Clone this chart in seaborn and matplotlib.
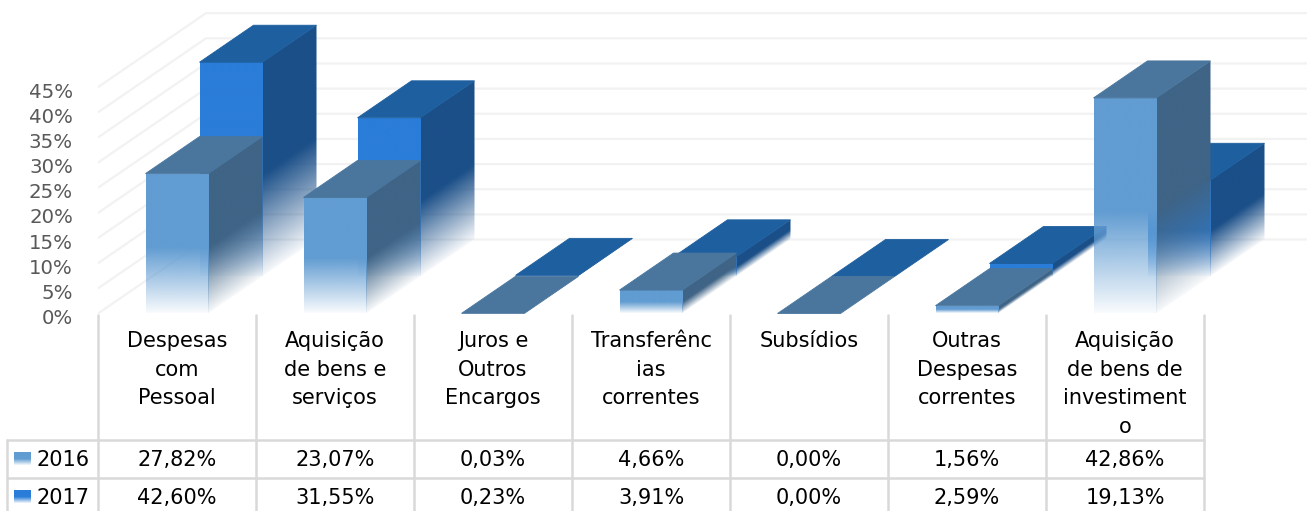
"""3D-style clustered bars with a data table underneath, Portuguese budget shares."""
import matplotlib
matplotlib.use("Agg")
import matplotlib.pyplot as plt
import matplotlib.transforms as mtrans
from matplotlib.colors import to_rgb
from matplotlib.lines import Line2D
from matplotlib.patches import Polygon
import numpy as np
import seaborn as sns

categories = ["Despesas\ncom\nPessoal", "Aquisição\nde bens e\nserviços", "Juros e\nOutros\nEncargos",
              "Transferênc\nias\ncorrentes", "Subsídios", "Outras\nDespesas\ncorrentes",
              "Aquisição\nde bens de\ninvestiment\no"]
values_2016 = [27.82, 23.07, 0.03, 4.66, 0.00, 1.56, 42.86]
values_2017 = [42.60, 31.55, 0.23, 3.91, 0.00, 2.59, 19.13]
years = ["2016", "2017"]
y_ticks = [0, 5, 10, 15, 20, 25, 30, 35, 40, 45]

W, H = 1307, 511
PX_X = 158.0   # pixels per category
PX_Y = 5.03    # pixels per percent
BASE = 313.5   # pixel row of 0%
LEFT = 98
DX, DY = 54 / PX_X, 37 / PX_Y   # depth of one bar
BAR_W = 63 / PX_X
FADE = 0.47

COLS = {
    "2016": {"front": "#619CD2", "top": "#4A769E", "side": "#3F6486"},
    "2017": {"front": "#2A7DD8", "top": "#1E5F9F", "side": "#1B4F88"},
}
GRID = "#F2F2F2"
TABLE = "#D9D9D9"

sns.set_style("white")
plt.rcParams["font.family"] = ["DejaVu Sans"]

fig = plt.figure(figsize=(W / 100, H / 100), dpi=100)
ax = fig.add_axes([LEFT / W, 1 - BASE / H, (W - LEFT) / W, BASE / H])
ax.patch.set_alpha(0)

# front faces come from seaborn, one layer per year
sns.barplot(x=categories, y=values_2017, width=BAR_W, color=COLS["2017"]["front"], saturation=1,
            errorbar=None, ax=ax)
sns.barplot(x=categories, y=values_2016, width=BAR_W, color=COLS["2016"]["front"], saturation=1,
            errorbar=None, ax=ax)
bars_2017 = list(ax.patches[:7])
bars_2016 = list(ax.patches[7:])

x_max = (W - LEFT) / PX_X - 0.5
ax.set_xlim(-0.5, x_max)
ax.set_ylim(0, BASE / PX_Y)
ax.autoscale(False)

# back wall + side wall gridlines
for v in y_ticks:
    ax.plot([-0.5, -0.5 + 2 * DX, x_max], [v, v + 2 * DY, v + 2 * DY], color=GRID, lw=1.6, zorder=1)


def fade_image(poly, color, x0, y0, h, slope, z):
    # colour with an alpha ramp measured upward from a (possibly slanted) base line
    pts = np.array(poly)
    xs = np.linspace(pts[:, 0].min(), pts[:, 0].max(), 120)
    ys = np.linspace(pts[:, 1].min(), pts[:, 1].max(), 300)
    xx, yy = np.meshgrid(xs, ys)
    t = (yy - (y0 + (xx - x0) * slope)) / (FADE * h)
    rgba = np.zeros(xx.shape + (4,))
    rgba[..., :3] = to_rgb(color)
    rgba[..., 3] = np.clip(0.04 + 0.96 * t, 0, 1)
    im = ax.imshow(rgba, extent=(xs[0], xs[-1], ys[0], ys[-1]), origin="lower", aspect="auto", zorder=z)
    shape = Polygon(poly, closed=True, fc="none", ec="none", zorder=z)
    ax.add_patch(shape)
    im.set_clip_path(shape)


def draw_bar(bar, cols, x_shift, y_shift, z):
    bar.set_x(bar.get_x() + x_shift)
    bar.set_y(y_shift)
    bar.set_facecolor("none")
    bar.set_edgecolor("none")
    x0, w, h = bar.get_x(), bar.get_width(), bar.get_height()
    y0 = y_shift
    top = y0 + h
    # the side runs a little under the front so no light seam shows
    lap = 0.7 / PX_X
    side = [(x0 + w - lap, y0), (x0 + w + DX, y0 + DY), (x0 + w + DX, top + DY), (x0 + w - lap, top)]
    front = [(x0, y0), (x0 + w, y0), (x0 + w, top), (x0, top)]
    if h > 0.1:
        fade_image(side, cols["side"], x0 + w, y0, h, DY / DX, z)
        fade_image(front, cols["front"], x0, y0, h, 0, z + 0.1)
    ax.add_patch(Polygon([(x0, top), (x0 + w, top), (x0 + w + DX, top + DY), (x0 + DX, top + DY)],
                         closed=True, fc=cols["top"], ec=cols["top"], lw=0.6, zorder=z + 0.2))


# back row first, then the front row left to right
for i, bar in enumerate(bars_2017):
    draw_bar(bar, COLS["2017"], DX, DY, 3 + i)
for i, bar in enumerate(bars_2016):
    draw_bar(bar, COLS["2016"], 0, 0, 12 + i)

sns.despine(ax=ax, left=True, bottom=True)
ax.set_yticks(y_ticks)
ax.set_yticklabels([f"{v}%" for v in y_ticks], fontsize=14.2, color="#595959")
ax.set_xticks(range(len(categories)))
ax.set_xticklabels(categories, fontsize=15, color="black", linespacing=1.55)
ax.tick_params(axis="y", length=0, pad=18)
ax.tick_params(axis="x", length=0, pad=12.5)
shift = mtrans.ScaledTranslation(0, -3 / 100, fig.dpi_scale_trans)
for lab in ax.get_yticklabels():
    lab.set_transform(lab.get_transform() + shift)


# data table, laid out in picture pixels
def px(x, y):
    return x / W, 1 - y / H


edges = [LEFT + PX_X * i for i in range(8)]
for x in edges:
    fig.add_artist(Line2D(*zip(px(x, 315), px(x, H)), color=TABLE, lw=1.8))
fig.add_artist(Line2D(*zip(px(7, 440), px(7, H)), color=TABLE, lw=1.8))
for y in (440, 478):
    fig.add_artist(Line2D(*zip(px(7, y), px(edges[-1], y)), color=TABLE, lw=1.8))

rows = [(years[0], values_2016, 460, 452), (years[1], values_2017, 498, 490)]
for year, vals, y_txt, y_key in rows:
    fig.text(*px(37, y_txt), year, fontsize=15, color="black", va="center", ha="left")
    for i, v in enumerate(vals):
        fig.text(*px(LEFT + PX_X * (i + 0.5), y_txt), f"{v:.2f}".replace(".", ",") + "%", fontsize=15,
                 color="black", va="center", ha="center")
    key = fig.add_axes([14 / W, 1 - (y_key + 13) / H, 17 / W, 13 / H])
    key.axis("off")
    ramp = np.zeros((20, 1, 4))
    ramp[..., :3] = to_rgb(COLS[year]["front"])
    ramp[:, 0, 3] = np.clip(np.linspace(2.0, 0.1, 20), 0, 1)
    key.imshow(ramp, aspect="auto")

fig.savefig("out.png", dpi=100)
